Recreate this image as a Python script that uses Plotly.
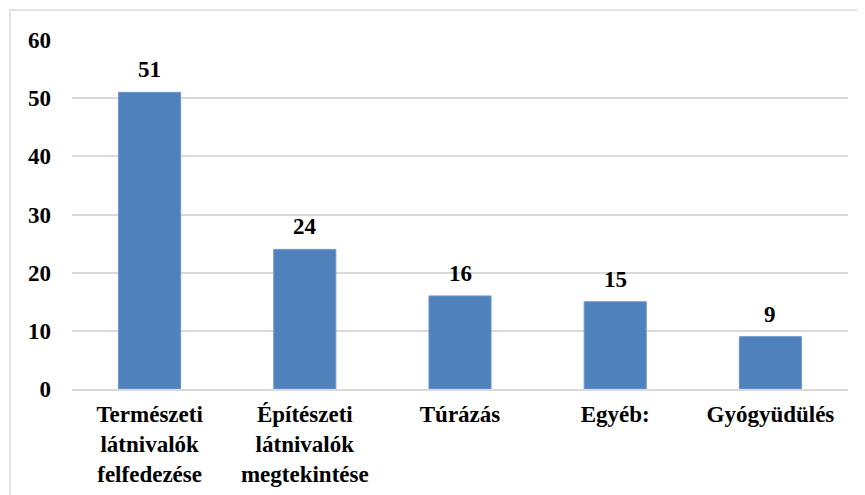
import plotly.graph_objects as go

categories = ["Természeti<br>látnivalók<br>felfedezése",
              "Építészeti<br>látnivalók<br>megtekintése",
              "Túrázás",
              "Egyéb:",
              "Gyógyüdülés"]
values = [51, 24, 16, 15, 9]
y_ticks = [0, 10, 20, 30, 40, 50, 60]

font_family = "'Times New Roman', 'Liberation Serif', serif"
font_size = 23

fig = go.Figure()
fig.add_trace(go.Bar(
    x=categories,
    y=values,
    width=0.4,
    marker=dict(color="#4F81BD", line=dict(color="#6F96C8", width=1)),
    hoverinfo="x+y",
))

# value labels above the bars
for c, v in zip(categories, values):
    fig.add_annotation(x=c, y=v, text=f"<b>{v}</b>", showarrow=False,
                       yanchor="bottom", yshift=8,
                       font=dict(family=font_family, size=font_size, color="black"))

# outer chart border (extends past the visible window, like the original)
fig.add_shape(type="rect", xref="paper", yref="paper",
              x0=-0.0799, x1=1.5, y0=-0.6, y1=1.086,
              line=dict(color="#D9D9D9", width=1.5), layer="below")

# margins compensate for the 8px page body margin
fig.update_layout(
    width=865, height=495,
    margin=dict(l=64, r=25, t=32, b=114),
    paper_bgcolor="white", plot_bgcolor="white",
    showlegend=False,
    font=dict(family=font_family, size=font_size, color="black"),
    xaxis=dict(
        tickmode="array", tickvals=categories,
        ticktext=[f"<b>{c}</b>" for c in categories],
        showgrid=False, showline=True, linecolor="#D9D9D9", linewidth=1.5,
        ticks="", ticklabelstandoff=4, automargin=False,
        tickfont=dict(family=font_family, size=font_size, color="black"),
    ),
    yaxis=dict(
        range=[0, 60], tickvals=y_ticks,
        ticktext=[f"<b>{t}</b>" for t in y_ticks],
        showgrid=True, gridcolor="#D9D9D9", gridwidth=1.5,
        zeroline=False, showline=False, ticks="",
        ticklabelstandoff=20, automargin=False,
        tickfont=dict(family=font_family, size=font_size, color="black"),
    ),
)

fig.write_html("out.html")
